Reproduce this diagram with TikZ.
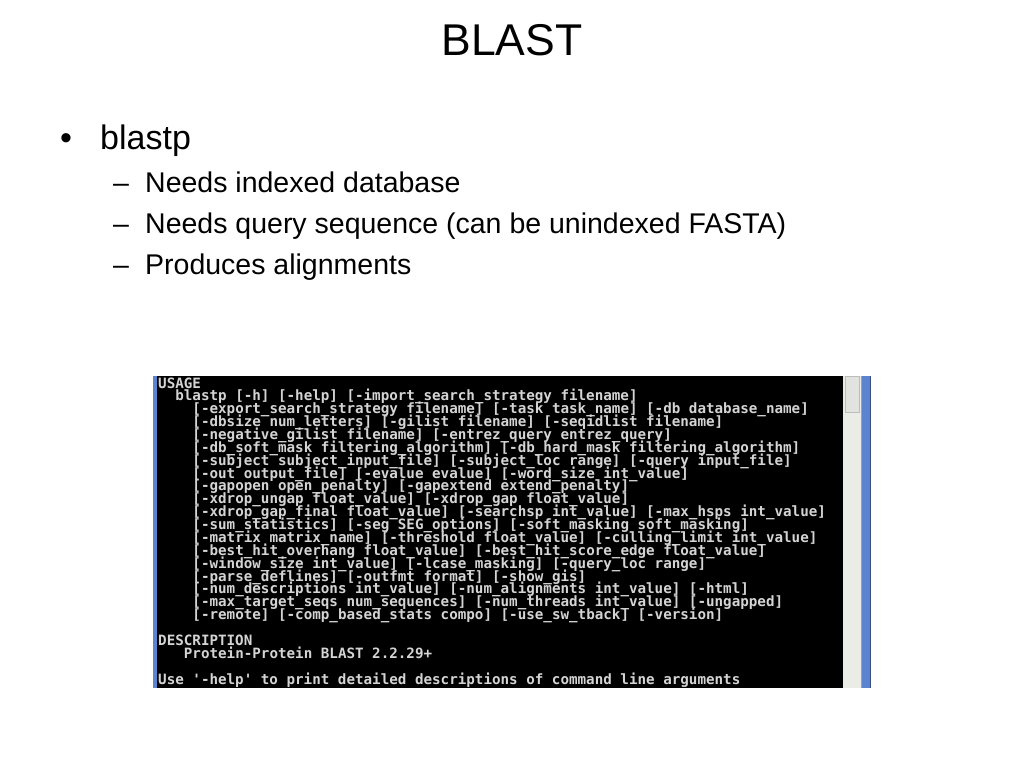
\documentclass[tikz,border=0pt]{standalone}
\usepackage{fontspec}
\setmainfont{Liberation Sans}
\newfontfamily\termfont{DejaVu Sans Mono}
\definecolor{termtext}{RGB}{212,212,212}
\definecolor{winblue}{RGB}{92,132,206}
\definecolor{track}{RGB}{236,236,230}
\definecolor{thumb}{RGB}{226,226,222}
\definecolor{edgegray}{RGB}{160,160,160}
\begin{document}
\begin{tikzpicture}[x=1pt,y=-1pt,
  titletext/.style={anchor=base, inner sep=0pt, font=\fontsize{44.5}{48}\selectfont},
  lvlone/.style={anchor=base west, inner sep=0pt, font=\fontsize{34}{38}\selectfont},
  lvltwo/.style={anchor=base west, inner sep=0pt, font=\fontsize{28.5}{32}\selectfont},
  tline/.style={anchor=base west, inner sep=0pt, text=termtext, font=\termfont\bfseries\fontsize{14.22}{15}\selectfont}]
\useasboundingbox (0,0) rectangle (1024,768);
\fill[white] (0,0) rectangle (1024,768);

% title and bullets
\node[titletext] (title) at (512,56) {BLAST};
\node[lvlone] (b1) at (60,149) {•};
\node[lvlone] (blastp) at (100,149) {blastp};
\node[lvltwo] (d1) at (113,192) {–};
\node[lvltwo] (s1) at (145,192) {Needs indexed database};
\node[lvltwo] (d2) at (113,233) {–};
\node[lvltwo] (s2) at (145,233) {Needs query sequence (can be unindexed FASTA)};
\node[lvltwo] (d3) at (113,274) {–};
\node[lvltwo] (s3) at (145,274) {Produces alignments};

% terminal window
\fill[winblue] (153,376) rectangle (157,688);
\fill[black] (157,376) rectangle (843,688);
\fill[track] (843,376) rectangle (861,688);
\draw[fill=thumb, draw=edgegray!70] (845,376) rectangle (859.5,412);
\fill[edgegray] (861,376) rectangle (862,688);
\fill[winblue] (862,376) rectangle (870,688);
\fill[winblue!60!black] (870,376) rectangle (871,688);

% terminal text (column width 8.57, row height 12.87)
\def\cw{8.57}
\def\rh{12.87}
\node[tline] (t0)  at (158,388) {USAGE};
\node[tline] (t1)  at (158+2*\cw,388+1*\rh) {blastp [-h] [-help] [-import\_search\_strategy filename]};
\node[tline] (t2)  at (158+4*\cw,388+2*\rh) {[-export\_search\_strategy filename] [-task task\_name] [-db database\_name]};
\node[tline] (t3)  at (158+4*\cw,388+3*\rh) {[-dbsize num\_letters] [-gilist filename] [-seqidlist filename]};
\node[tline] (t4)  at (158+4*\cw,388+4*\rh) {[-negative\_gilist filename] [-entrez\_query entrez\_query]};
\node[tline] (t5)  at (158+4*\cw,388+5*\rh) {[-db\_soft\_mask filtering\_algorithm] [-db\_hard\_mask filtering\_algorithm]};
\node[tline] (t6)  at (158+4*\cw,388+6*\rh) {[-subject subject\_input\_file] [-subject\_loc range] [-query input\_file]};
\node[tline] (t7)  at (158+4*\cw,388+7*\rh) {[-out output\_file] [-evalue evalue] [-word\_size int\_value]};
\node[tline] (t8)  at (158+4*\cw,388+8*\rh) {[-gapopen open\_penalty] [-gapextend extend\_penalty]};
\node[tline] (t9)  at (158+4*\cw,388+9*\rh) {[-xdrop\_ungap float\_value] [-xdrop\_gap float\_value]};
\node[tline] (t10) at (158+4*\cw,388+10*\rh) {[-xdrop\_gap\_final float\_value] [-searchsp int\_value] [-max\_hsps int\_value]};
\node[tline] (t11) at (158+4*\cw,388+11*\rh) {[-sum\_statistics] [-seg SEG\_options] [-soft\_masking soft\_masking]};
\node[tline] (t12) at (158+4*\cw,388+12*\rh) {[-matrix matrix\_name] [-threshold float\_value] [-culling\_limit int\_value]};
\node[tline] (t13) at (158+4*\cw,388+13*\rh) {[-best\_hit\_overhang float\_value] [-best\_hit\_score\_edge float\_value]};
\node[tline] (t14) at (158+4*\cw,388+14*\rh) {[-window\_size int\_value] [-lcase\_masking] [-query\_loc range]};
\node[tline] (t15) at (158+4*\cw,388+15*\rh) {[-parse\_deflines] [-outfmt format] [-show\_gis]};
\node[tline] (t16) at (158+4*\cw,388+16*\rh) {[-num\_descriptions int\_value] [-num\_alignments int\_value] [-html]};
\node[tline] (t17) at (158+4*\cw,388+17*\rh) {[-max\_target\_seqs num\_sequences] [-num\_threads int\_value] [-ungapped]};
\node[tline] (t18) at (158+4*\cw,388+18*\rh) {[-remote] [-comp\_based\_stats compo] [-use\_sw\_tback] [-version]};
\node[tline] (t20) at (158,388+20*\rh) {DESCRIPTION};
\node[tline] (t21) at (158+3*\cw,388+21*\rh) {Protein-Protein BLAST 2.2.29+};
\node[tline] (t23) at (158,388+23*\rh) {Use '-help' to print detailed descriptions of command line arguments};
\end{tikzpicture}
\end{document}
